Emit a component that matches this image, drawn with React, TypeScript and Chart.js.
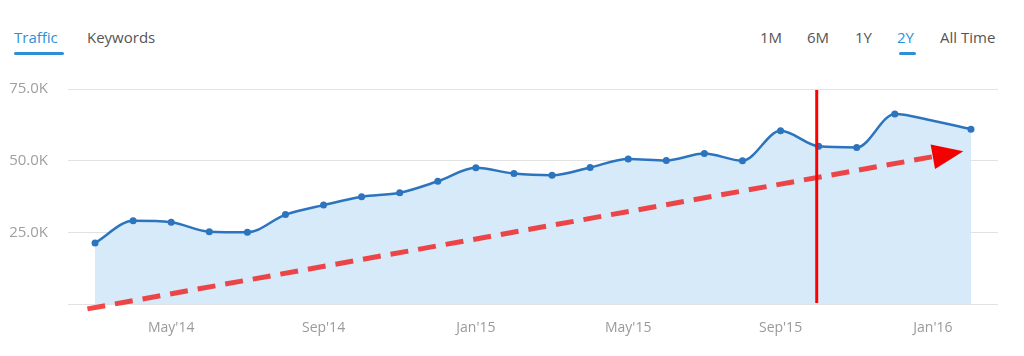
import React, { useEffect, useRef } from "react";
import { Chart, registerables } from "chart.js";

Chart.register(...registerables);

const months = [
  "Mar'14", "Apr'14", "May'14", "Jun'14", "Jul'14", "Aug'14", "Sep'14", "Oct'14",
  "Nov'14", "Dec'14", "Jan'15", "Feb'15", "Mar'15", "Apr'15", "May'15", "Jun'15",
  "Jul'15", "Aug'15", "Sep'15", "Oct'15", "Nov'15", "Dec'15", "Jan'16", "Feb'16",
];
const traffic = [
  21300, 29000, 28500, 25200, 25000, 31200, 34500, 37400,
  38800, 42800, 47500, 45500, 44900, 47600, 50600, 50100,
  52500, 50000, 60400, 55000, 54600, 66300, 63900, 61000,
];
const hiddenDots = ["Jan'16"];
const xTickLabels = ["May'14", "Sep'14", "Jan'15", "May'15", "Sep'15", "Jan'16"];
const yTickValues = [0, 25000, 50000, 75000];
const markerMonth = "Oct'15";
const trendStart = { x: -0.2, y: -1700 };
const trendEnd = { x: 22.8, y: 53300 };

const annotationPlugin = {
  id: "annotations",
  afterDatasetsDraw(chart: any) {
    const { ctx, scales } = chart;
    const xs = scales.x;
    const ys = scales.y;
    // trend arrow
    const x1 = xs.getPixelForValue(trendStart.x);
    const y1 = ys.getPixelForValue(trendStart.y);
    const x2 = xs.getPixelForValue(trendEnd.x);
    const y2 = ys.getPixelForValue(trendEnd.y);
    const dx = x2 - x1;
    const dy = y2 - y1;
    const len = Math.sqrt(dx * dx + dy * dy);
    const ux = dx / len;
    const uy = dy / len;
    const headLen = 31;
    const headHalf = 12.5;
    const bx = x2 - ux * headLen;
    const by = y2 - uy * headLen;
    ctx.save();
    ctx.strokeStyle = "rgba(240,40,40,0.85)";
    ctx.lineWidth = 5;
    ctx.setLineDash([18, 10]);
    ctx.beginPath();
    ctx.moveTo(x1, y1);
    ctx.lineTo(bx + ux * 3, by + uy * 3);
    ctx.stroke();
    ctx.setLineDash([]);
    ctx.fillStyle = "#f40000";
    ctx.beginPath();
    ctx.moveTo(x2, y2);
    ctx.lineTo(bx - uy * headHalf, by + ux * headHalf);
    ctx.lineTo(bx + uy * headHalf, by - ux * headHalf);
    ctx.closePath();
    ctx.fill();
    // vertical marker
    const mi = months.indexOf(markerMonth) - 0.05;
    const mx = xs.getPixelForValue(mi);
    ctx.strokeStyle = "#ff0000";
    ctx.lineWidth = 3;
    ctx.beginPath();
    ctx.moveTo(mx, ys.getPixelForValue(75000) + 1);
    ctx.lineTo(mx, ys.getPixelForValue(0) - 1);
    ctx.stroke();
    ctx.restore();
  },
};

export default function App() {
  const canvasRef = useRef<HTMLCanvasElement>(null);

  useEffect(() => {
    document.body.style.margin = "0";
    const canvas = canvasRef.current;
    if (!canvas) return;
    const tickIdx = xTickLabels.map((l) => months.indexOf(l));
    const chart = new Chart(canvas, {
      type: "line",
      data: {
        datasets: [
          {
            label: "Traffic",
            data: months.map((m, i) => ({ x: i, y: traffic[i] })),
            borderColor: "#2c74bd",
            backgroundColor: "rgba(214,234,249,1)",
            fill: "origin",
            borderWidth: 2.5,
            cubicInterpolationMode: "monotone",
            pointRadius: months.map((m) => (hiddenDots.includes(m) ? 0 : 3.5)),
            pointBackgroundColor: "#2c74bd",
            pointBorderColor: "#2c74bd",
            pointBorderWidth: 0,
          },
        ],
      },
      options: {
        animation: false,
        responsive: true,
        maintainAspectRatio: false,
        layout: { padding: { top: 9, right: 26, left: 5, bottom: 0 } },
        plugins: { legend: { display: false }, tooltip: { enabled: false } },
        scales: {
          x: {
            type: "linear",
            min: -0.71,
            max: 23.71,
            grid: { display: false, drawTicks: false },
            border: { display: false },
            afterBuildTicks: (scale: any) => {
              scale.ticks = tickIdx.map((v) => ({ value: v }));
            },
            afterFit: (scale: any) => {
              scale.height = 52;
            },
            ticks: {
              padding: 16,
              color: "#9a9a9a",
              font: { family: "'Open Sans'", size: 14 },
              maxRotation: 0,
              autoSkip: false,
              callback: (v: any) => months[Math.round(Number(v))] ?? "",
            },
          },
          y: {
            min: 0,
            max: 75000,
            grid: { color: "#e2e2e2", drawTicks: false, lineWidth: 1 },
            border: { display: false },
            afterBuildTicks: (scale: any) => {
              scale.ticks = yTickValues.map((v) => ({ value: v }));
            },
            afterFit: (scale: any) => {
              scale.width = 63;
            },
            ticks: {
              padding: 20,
              color: "#a0a0a0",
              font: { family: "'Open Sans'", size: 15 },
              callback: (v: any) => (Number(v) === 0 ? "" : (Number(v) / 1000).toFixed(1) + "K"),
            },
          },
        },
      },
      plugins: [annotationPlugin],
    });
    return () => chart.destroy();
  }, []);

  const tab = (left: number, text: string, active: boolean) => (
    <span
      style={{
        position: "absolute",
        left,
        top: 27,
        fontSize: 15,
        fontFamily: "'Open Sans', sans-serif",
        color: active ? "#2f8fd6" : "#555",
        whiteSpace: "nowrap",
      }}
    >
      {text}
    </span>
  );

  return (
    <div style={{ position: "relative", width: 1024, height: 356, background: "#fff", overflow: "hidden" }}>
      <div style={{ position: "absolute", left: 0, top: 60, width: 1024, height: 296 }}>
        <canvas ref={canvasRef} />
      </div>
      {tab(14, "Traffic", true)}
      <div style={{ position: "absolute", left: 14, top: 52, width: 50, height: 3, borderRadius: 2, background: "#2f8fd6" }} />
      {tab(87, "Keywords", false)}
      {tab(760, "1M", false)}
      {tab(807, "6M", false)}
      {tab(855, "1Y", false)}
      {tab(897, "2Y", true)}
      <div style={{ position: "absolute", left: 899, top: 52, width: 17, height: 3, borderRadius: 2, background: "#2f8fd6" }} />
      {tab(940, "All Time", false)}
    </div>
  );
}
